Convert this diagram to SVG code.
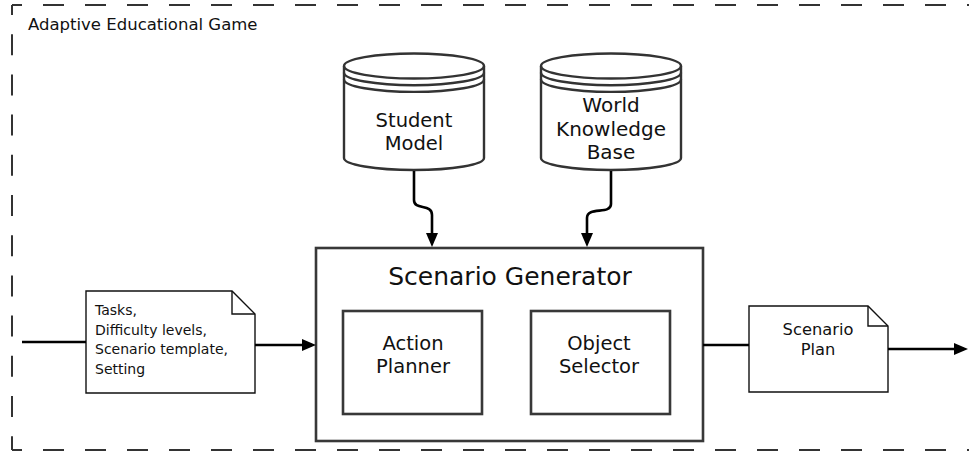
<svg xmlns="http://www.w3.org/2000/svg" width="969" height="455" viewBox="0 0 969 455">
<style>
  .t{font-family:"DejaVu Sans","Open Sans","Liberation Sans",sans-serif;fill:#111;}
  .mid{text-anchor:middle;}
  .box{fill:#fff;stroke:#383838;stroke-width:2.6;}
  .cyl{fill:#fff;stroke:#333;stroke-width:2.4;}
  .arc{fill:none;stroke:#333;stroke-width:2.4;}
  .note{fill:#fff;stroke:#111;stroke-width:1.4;stroke-linejoin:miter;}
  .fold{fill:none;stroke:#111;stroke-width:1.4;}
  .dash{fill:none;stroke:#333;stroke-width:2;stroke-dasharray:21 21;stroke-dashoffset:11;}
  .con{fill:none;stroke:#000;stroke-width:2.6;}
</style>
<defs>
  <marker id="ah" markerUnits="userSpaceOnUse" markerWidth="14" markerHeight="12" refX="10" refY="6" orient="auto">
    <path d="M0,0 L14,6 L0,12 z" fill="#000"/>
  </marker>
</defs>

<g id="boundary">
  <line class="dash" x1="12" y1="5" x2="969" y2="5"/>
  <line class="dash" x1="12" y1="450" x2="969" y2="450"/>
  <line class="dash" x1="12" y1="5" x2="12" y2="450" style="stroke-dasharray:21 19.2"/>
  <text class="t" x="28" y="30" font-size="16.5">Adaptive Educational Game</text>
</g>

<g id="student-model">
  <path class="cyl" d="M344,66 L344,158 A70,12 0 0 0 484,158 L484,66 A70,12.5 0 0 0 344,66 Z"/>
  <path class="arc" d="M344,66 A70,12.5 0 0 0 484,66"/>
  <path class="arc" d="M344,72.7 A70,12.5 0 0 0 484,72.7"/>
  <path class="arc" d="M344,79.4 A70,12.5 0 0 0 484,79.4"/>
  <text class="t mid" font-size="19.5"><tspan x="414" y="126.5">Student</tspan><tspan x="414" dy="23">Model</tspan></text>
</g>

<g id="world-knowledge-base">
  <path class="cyl" d="M541,66 L541,158 A70,12 0 0 0 681,158 L681,66 A70,12.5 0 0 0 541,66 Z"/>
  <path class="arc" d="M541,66 A70,12.5 0 0 0 681,66"/>
  <path class="arc" d="M541,72.7 A70,12.5 0 0 0 681,72.7"/>
  <path class="arc" d="M541,79.4 A70,12.5 0 0 0 681,79.4"/>
  <text class="t mid" font-size="20"><tspan x="611" y="112">World</tspan><tspan x="611" dy="23.5">Knowledge</tspan><tspan x="611" dy="23.5">Base</tspan></text>
</g>

<g id="scenario-generator">
  <rect class="box" x="316" y="248" width="387" height="193"/>
  <text class="t mid" x="510" y="285" font-size="25">Scenario Generator</text>
</g>

<g id="action-planner">
  <rect class="box" x="343" y="311" width="139" height="103"/>
  <text class="t mid" font-size="19.5"><tspan x="413" y="350">Action</tspan><tspan x="413" dy="23">Planner</tspan></text>
</g>

<g id="object-selector">
  <rect class="box" x="531" y="311" width="139" height="103"/>
  <text class="t mid" font-size="19.5"><tspan x="599" y="350">Object</tspan><tspan x="599" dy="23">Selector</tspan></text>
</g>

<g id="input-note">
  <path class="note" d="M86,291 L232,291 L255,314 L255,393 L86,393 Z"/>
  <path class="fold" d="M232,291 L232,314 L255,314"/>
  <text class="t" font-size="14"><tspan x="95" y="315">Tasks,</tspan><tspan x="95" dy="19.5">Difficulty levels,</tspan><tspan x="95" dy="19.5">Scenario template,</tspan><tspan x="95" dy="19.5">Setting</tspan></text>
</g>

<g id="scenario-plan">
  <path class="note" d="M749,306 L868,306 L888,326 L888,392 L749,392 Z"/>
  <path class="fold" d="M868,306 L868,326 L888,326"/>
  <text class="t mid" font-size="16.3"><tspan x="818" y="335">Scenario</tspan><tspan x="818" dy="20">Plan</tspan></text>
</g>

<g id="connectors">
  <path class="con" d="M414,171 L414,200 C414,211 432,203 432,215 L432,243" marker-end="url(#ah)"/>
  <path class="con" d="M611,171 L611,204 C611,215 587,206 587,218 L587,243" marker-end="url(#ah)"/>
  <path class="con" d="M22,342 L86,342"/>
  <path class="con" d="M255,345 L312,345" marker-end="url(#ah)"/>
  <path class="con" d="M703,345 L749,345"/>
  <path class="con" d="M888,349 L964,349" marker-end="url(#ah)"/>
</g>
</svg>
